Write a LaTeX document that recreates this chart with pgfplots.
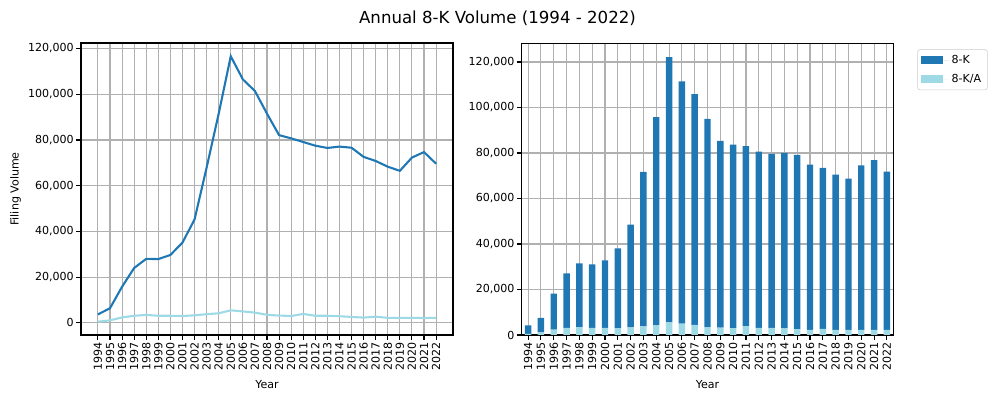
\documentclass[border=0pt]{standalone}
\usepackage{fontspec}
\setmainfont{DejaVu Sans}
\usepackage{pgfplots}
\usepackage{pgfplotstable}
\pgfplotsset{compat=1.18}
\definecolor{tabblue}{HTML}{1F77B4}
\definecolor{tablight}{HTML}{9EDAE5}
\definecolor{gridgray}{HTML}{B0B0B0}
\definecolor{leggray}{HTML}{CCCCCC}
\pgfplotstableread{
idx k ka
0 3700 500
1 6400 1100
2 15800 2400
3 24000 3100
4 28000 3500
5 27900 3100
6 29700 3100
7 35100 3000
8 45200 3300
9 67900 3800
10 91500 4200
11 116600 5500
12 106500 5000
13 101400 4500
14 91500 3500
15 82100 3200
16 80700 3000
17 79100 3900
18 77500 3100
19 76500 3100
20 77100 2900
21 76600 2600
22 72600 2300
23 70800 2700
24 68300 2200
25 66500 2200
26 72300 2200
27 74700 2200
28 69600 2200
}\datatable
\newcommand{\yrs}{1994,1995,1996,1997,1998,1999,2000,2001,2002,2003,2004,2005,2006,2007,2008,2009,2010,2011,2012,2013,2014,2015,2016,2017,2018,2019,2020,2021,2022}
\pgfplotsset{
  common/.style={
    scale only axis,
    width=3.72in, height=2.92in,
    axis line style={line width=0.8bp, black},
    grid=major,
    major grid style={line width=0.8bp, gridgray},
    tick align=outside,
    major tick length=3.5bp,
    every tick/.style={line width=0.8bp, black},
    xtick={0,...,28},
    xticklabels/.expanded={\yrs},
    xticklabel style={rotate=90, anchor=east, font=\fontsize{8}{9.6}\selectfont, inner sep=1.5bp},
    yticklabel style={font=\fontsize{8}{9.6}\selectfont, inner sep=1.5bp},
    ytick={0,20000,...,120000},
    scaled y ticks=false,
    /pgf/number format/.cd, fixed, 1000 sep={,}, assume math mode=true,
    /pgfplots/.cd,
    xlabel={Year},
    label style={font=\fontsize{8}{9.6}\selectfont},
    xlabel style={yshift=-2bp},
    tick pos=left,
  }
}
\begin{document}
\begin{tikzpicture}
\useasboundingbox (0,0) rectangle (9.97in,3.99in);
\node[font=\fontsize{12}{14.4}\selectfont] at (4.975in,3.807in) {Annual 8-K Volume (1994 - 2022)};
\begin{axis}[common,
  at={(0.81in,0.64in)}, anchor=south west,
  xmin=-1.4, xmax=29.4, ymin=-5305, ymax=122405,
  ylabel={Filing Volume},
]
\addplot[tabblue, line width=1.5bp] table[x=idx, y=k] {\datatable};
\addplot[tablight, line width=1.5bp] table[x=idx, y=ka] {\datatable};
\end{axis}
\begin{axis}[common,
  at={(5.217in,0.64in)}, anchor=south west,
  width=3.716in, height=2.917in,
  xmin=-0.5, xmax=28.5, ymin=0, ymax=128200,
  ybar stacked, bar width=0.5,
  reverse legend,
  legend style={at={(1.0646,0.980)}, anchor=north west, draw=leggray, rounded corners=2bp,
    font=\fontsize{8}{9.6}\selectfont, inner xsep=2.5bp, inner ysep=2bp,
    row sep=2.4bp, cells={anchor=west}},
  legend image code/.code={\fill[#1, sharp corners] (0bp,-2.8bp) rectangle (16bp,2.8bp);\path (0bp,0bp) -- (20bp,0bp);},
]
\addplot[fill=tablight, draw=none] table[x=idx, y=ka] {\datatable};
\addlegendentry{8-K/A}
\addplot[fill=tabblue, draw=none] table[x=idx, y=k] {\datatable};
\addlegendentry{8-K}
\end{axis}
\end{tikzpicture}
\end{document}
